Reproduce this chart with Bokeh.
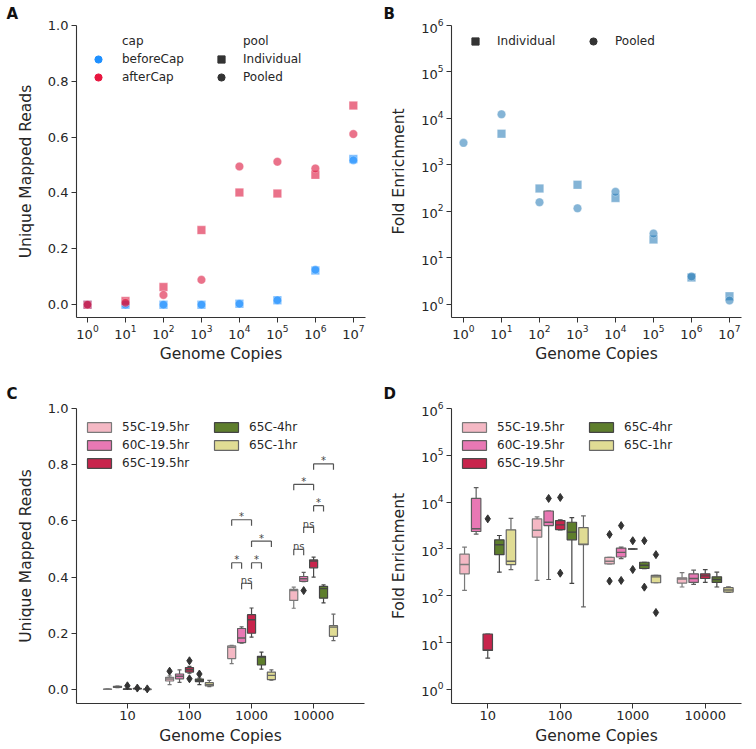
from bokeh.plotting import figure
from bokeh.models import (ColumnDataSource, FactorRange, FixedTicker, Legend, LegendItem,
                          Title, Range1d, NumeralTickFormatter)
from bokeh.transform import dodge
from bokeh.layouts import column, row
from bokeh.embed import file_html
from bokeh.resources import INLINE
from bokeh.core.properties import value

FONT = "DejaVu Sans"
TXT = "#262626"
AX = "#333333"
NAN = float("nan")

# ---------------- Panel A data ----------------
copies_a = [1, 10, 100, 1000, 1e4, 1e5, 1e6, 1e7]
before_ind = [0.0, 0.0, 0.0, 0.0, 0.003, 0.016, 0.122, 0.522]
before_pool = [0.0, 0.0, 0.0, 0.0, 0.003, 0.016, 0.125, 0.517]
after_ind = [0.0, 0.013, 0.063, 0.267, 0.402, 0.398, 0.465, 0.713]
after_pool = [0.0, 0.007, 0.035, 0.089, 0.495, 0.512, 0.488, 0.611]

# ---------------- Panel B data ----------------
copies_b_ind = [10, 100, 1000, 1e4, 1e5, 1e6, 1e7]
fold_ind = [4720, 313, 375, 195, 25, 3.8, 1.5]
copies_b_pool = [1, 10, 100, 1000, 1e4, 1e5, 1e6, 1e7]
fold_pool = [2990, 12300, 158, 117, 265, 33.5, 4.0, 1.22]

log_ticks = [1, 10, 100, 1000, 1e4, 1e5, 1e6, 1e7]
fold_ticks = [1, 10, 100, 1000, 1e4, 1e5, 1e6]
lin_ticks = [0.0, 0.2, 0.4, 0.6, 0.8, 1.0]

# ---------------- Panels C / D data ----------------
cats = ["10", "100", "1000", "10000"]
conds = ["55C-19.5hr", "60C-19.5hr", "65C-19.5hr", "65C-4hr", "65C-1hr"]
colors = ["#F4B8C4", "#E878B4", "#C8244C", "#5E7E2C", "#E0DC94"]
edge_colors = ["#7a7a7a", "#5e5e5e", "#4a4a4a", "#444444", "#666666"]

# C: unique mapped reads box statistics (per condition, one value per copies category)
c_lo = {"55C-19.5hr": [0.0, 0.017, 0.092, 0.289], "60C-19.5hr": [0.006, 0.025, 0.165, 0.384],
        "65C-19.5hr": [0.0, 0.058, 0.186, 0.400], "65C-4hr": [0.001, 0.017, 0.072, 0.308],
        "65C-1hr": [0.0, 0.010, 0.033, 0.174]}
c_q1 = {"55C-19.5hr": [0.0, 0.030, 0.110, 0.317], "60C-19.5hr": [0.007, 0.038, 0.167, 0.385],
        "65C-19.5hr": [0.0, 0.062, 0.200, 0.433], "65C-4hr": [0.002, 0.028, 0.087, 0.325],
        "65C-1hr": [0.0, 0.013, 0.035, 0.189]}
c_med = {"55C-19.5hr": [0.001, 0.037, 0.150, 0.352], "60C-19.5hr": [0.009, 0.047, 0.183, 0.394],
         "65C-19.5hr": [0.001, 0.070, 0.248, 0.457], "65C-4hr": [0.003, 0.032, 0.115, 0.359],
         "65C-1hr": [0.0, 0.017, 0.050, 0.222]}
c_q3 = {"55C-19.5hr": [0.001, 0.043, 0.155, 0.356], "60C-19.5hr": [0.011, 0.055, 0.217, 0.402],
        "65C-19.5hr": [0.002, 0.078, 0.266, 0.461], "65C-4hr": [0.004, 0.037, 0.118, 0.367],
        "65C-1hr": [0.001, 0.024, 0.062, 0.227]}
c_hi = {"55C-19.5hr": [0.002, 0.048, 0.157, 0.364], "60C-19.5hr": [0.012, 0.070, 0.223, 0.417],
        "65C-19.5hr": [0.003, 0.082, 0.290, 0.471], "65C-4hr": [0.005, 0.040, 0.133, 0.372],
        "65C-1hr": [0.001, 0.032, 0.070, 0.268]}
c_out_cat = ["10", "10", "10", "100", "100", "100", "100", "10000"]
c_out_cond = ["65C-19.5hr", "65C-4hr", "65C-1hr", "55C-19.5hr", "65C-19.5hr", "65C-19.5hr", "65C-4hr", "60C-19.5hr"]
c_out_val = [0.013, 0.005, 0.002, 0.065, 0.102, 0.038, 0.055, 0.352]

# C: significance brackets
br_cat = ["1000", "1000", "1000", "1000", "1000", "10000", "10000", "10000", "10000", "10000"]
br_left = ["60C-19.5hr", "55C-19.5hr", "65C-19.5hr", "55C-19.5hr", "65C-19.5hr",
           "55C-19.5hr", "60C-19.5hr", "65C-19.5hr", "55C-19.5hr", "65C-19.5hr"]
br_right = ["65C-19.5hr", "60C-19.5hr", "65C-4hr", "65C-19.5hr", "65C-1hr",
            "60C-19.5hr", "65C-19.5hr", "65C-4hr", "65C-19.5hr", "65C-1hr"]
br_y = [0.378, 0.451, 0.451, 0.604, 0.528, 0.499, 0.578, 0.654, 0.730, 0.803]
br_text = ["ns", "*", "*", "*", "*", "ns", "ns", "*", "*", "*"]

# D: fold enrichment box statistics
d_lo = {"55C-19.5hr": [131, 213, 479, 154], "60C-19.5hr": [2070, 223, 622, 175],
        "65C-19.5hr": [4.65, 2550, 1000, 193], "65C-4hr": [319, 184, 382, 154],
        "65C-1hr": [364, 58, 190, 118]}
d_q1 = {"55C-19.5hr": [294, 1790, 479, 187], "60C-19.5hr": [2360, 3160, 674, 193],
        "65C-19.5hr": [6.8, 2600, 1000, 234], "65C-4hr": [757, 1570, 383, 193],
        "65C-1hr": [465, 1230, 190, 120]}
d_med = {"55C-19.5hr": [465, 2520, 546, 229], "60C-19.5hr": [2700, 3720, 847, 234],
         "65C-19.5hr": [6.9, 3270, 1000, 267], "65C-4hr": [1230, 2290, 450, 223],
         "65C-1hr": [546, 1270, 254, 133]}
d_q3 = {"55C-19.5hr": [780, 4380, 664, 242], "60C-19.5hr": [12000, 6470, 1045, 294],
        "65C-19.5hr": [15.3, 4040, 1000, 294], "65C-4hr": [1570, 3720, 520, 254],
        "65C-1hr": [2560, 2870, 272, 149]}
d_hi = {"55C-19.5hr": [1100, 4830, 664, 314], "60C-19.5hr": [20500, 6470, 1100, 352],
        "65C-19.5hr": [15.3, 4200, 1000, 364], "65C-4hr": [1940, 4670, 520, 319],
        "65C-1hr": [4520, 5070, 272, 156]}
d_out_cat = ["10", "100", "100", "100", "1000", "1000", "1000", "1000", "1000", "1000",
             "1000", "1000", "1000", "1000"]
d_out_cond = ["65C-19.5hr", "60C-19.5hr", "65C-19.5hr", "65C-19.5hr", "55C-19.5hr", "55C-19.5hr",
              "60C-19.5hr", "60C-19.5hr", "65C-19.5hr", "65C-19.5hr", "65C-4hr", "65C-4hr",
              "65C-1hr", "65C-1hr"]
d_out_val = [4400, 12000, 12600, 304, 2040, 206, 3160, 213, 1500, 364, 1500, 153, 757, 44]

offsets = [-0.32, -0.16, 0.0, 0.16, 0.32]
BOXW = 0.13
CAPW = 0.065


def style(p, xlabel_standoff):
    for ax in p.axis:
        ax.axis_line_color = AX
        ax.axis_line_width = 1.1
        ax.major_tick_line_color = AX
        ax.major_tick_out = 5
        ax.major_tick_in = 0
        ax.minor_tick_line_color = None
        ax.major_label_text_font = FONT
        ax.major_label_text_font_size = "13px"
        ax.major_label_text_color = TXT
        ax.axis_label_text_font = FONT
        ax.axis_label_text_font_size = "15.5px"
        ax.axis_label_text_font_style = "normal"
        ax.axis_label_text_color = TXT
    p.xaxis.major_label_standoff = 2
    p.yaxis.major_label_standoff = 3
    p.xaxis.axis_label_standoff = xlabel_standoff
    p.yaxis.axis_label_standoff = 10
    p.xgrid.visible = False
    p.ygrid.visible = False
    p.outline_line_color = None
    p.background_fill_color = "white"


def letter(p, txt, off, standoff):
    p.add_layout(Title(text=txt, align="left", offset=off, standoff=standoff,
                       text_font=FONT, text_font_style="bold", text_font_size="15px",
                       text_color="#111111"), "above")


def legend(p, items, loc, glyph_w, glyph_h, standoff, orientation="vertical", size="12px"):
    lg = Legend(items=items, location=loc, orientation=orientation, glyph_width=glyph_w,
                glyph_height=glyph_h, label_height=18, label_standoff=standoff, spacing=0,
                padding=0, margin=0, border_line_color=None, background_fill_alpha=0,
                label_text_font=FONT, label_text_font_size=size, label_text_color=TXT)
    p.add_layout(lg)
    return lg


def proxy(p, marker, color, alpha=1.0):
    # legend-only renderer: a single NaN point, never drawn in the plot area
    return p.scatter(x=[NAN], y=[NAN], marker=marker, fill_color=color, line_color=color,
                     fill_alpha=alpha, line_alpha=alpha)


# ================= Panel A =================
pA = figure(width=378, height=365, x_axis_type="log", output_backend="svg", toolbar_location=None,
            x_range=Range1d(10 ** -0.29, 10 ** 7.32), y_range=Range1d(-0.046, 1.0),
            min_border_left=76, min_border_right=13, min_border_top=23, min_border_bottom=47)
style(pA, 3)
pA.xaxis.ticker = FixedTicker(ticks=log_ticks, minor_ticks=[])
pA.yaxis.ticker = FixedTicker(ticks=lin_ticks, minor_ticks=[])
pA.yaxis.formatter = NumeralTickFormatter(format="0.0")
pA.xaxis.axis_label = "Genome Copies"
pA.yaxis.axis_label = "Unique Mapped Reads"

srcA = ColumnDataSource(dict(x=copies_a, bi=before_ind, bp=before_pool, ai=after_ind, ap=after_pool))
for col, mk, c in [("bi", "square", "#1E90FF"), ("bp", "circle", "#1E90FF"),
                   ("ai", "square", "#DC143C"), ("ap", "circle", "#DC143C")]:
    pA.scatter(x="x", y=col, source=srcA, marker=mk, size=8.5, fill_color=c, fill_alpha=0.6,
               line_color="white", line_width=0.5, line_alpha=0.6)

hdrA = proxy(pA, "circle", "white", 0.0)
lbA = proxy(pA, "circle", "#1E90FF")
laA = proxy(pA, "circle", "#E8163F")
liA = proxy(pA, "square", AX)
lpA = proxy(pA, "circle", AX)
legend(pA, [LegendItem(label="cap", renderers=[hdrA]), LegendItem(label="beforeCap", renderers=[lbA]),
            LegendItem(label="afterCap", renderers=[laA])], (13, 231), 18, 18, 15)
legend(pA, [LegendItem(label="pool", renderers=[hdrA]), LegendItem(label="Individual", renderers=[liA]),
            LegendItem(label="Pooled", renderers=[lpA])], (136, 231), 18, 18, 13)
letter(pA, "A", -70, 5)

# ================= Panel B =================
pB = figure(width=378, height=365, x_axis_type="log", y_axis_type="log", output_backend="svg",
            toolbar_location=None, x_range=Range1d(10 ** -0.316, 10 ** 7.316),
            y_range=Range1d(10 ** -0.28, 10 ** 6),
            min_border_left=73, min_border_right=15, min_border_top=23, min_border_bottom=47)
style(pB, 3)
pB.xaxis.ticker = FixedTicker(ticks=log_ticks, minor_ticks=[])
pB.yaxis.ticker = FixedTicker(ticks=fold_ticks, minor_ticks=[])
pB.xaxis.axis_label = "Genome Copies"
pB.yaxis.axis_label = "Fold Enrichment"
pB.scatter(x=copies_b_ind, y=fold_ind, marker="square", size=8.5, fill_color="#1F77B4", fill_alpha=0.55,
           line_color="white", line_width=0.5, line_alpha=0.6)
pB.scatter(x=copies_b_pool, y=fold_pool, marker="circle", size=8.5, fill_color="#1F77B4", fill_alpha=0.55,
           line_color="white", line_width=0.5, line_alpha=0.6)
liB = proxy(pB, "square", AX)
lpB = proxy(pB, "circle", AX)
legend(pB, [LegendItem(label="Individual", renderers=[liB])], (15, 267), 18, 18, 13)
legend(pB, [LegendItem(label="Pooled", renderers=[lpB])], (133, 267), 18, 18, 13)
letter(pB, "B", -68, 5)


# ================= Box helper =================
def boxes(p, lo, q1, med, q3, hi, out_cat, out_cond, out_val):
    rends = []
    for i, cond in enumerate(conds):
        off = offsets[i]
        ec = edge_colors[i]
        src = ColumnDataSource(dict(cat=cats, lo=lo[cond], q1=q1[cond], med=med[cond],
                                    q3=q3[cond], hi=hi[cond]))
        xc = dodge("cat", off, range=p.x_range)
        xl = dodge("cat", off - CAPW / 2, range=p.x_range)
        xr = dodge("cat", off + CAPW / 2, range=p.x_range)
        bl = dodge("cat", off - BOXW / 2, range=p.x_range)
        brr = dodge("cat", off + BOXW / 2, range=p.x_range)
        kw = dict(source=src, line_color=ec, line_width=1.2)
        p.segment(x0=xc, y0="q3", x1=xc, y1="hi", **kw)
        p.segment(x0=xc, y0="lo", x1=xc, y1="q1", **kw)
        p.segment(x0=xl, y0="hi", x1=xr, y1="hi", **kw)
        p.segment(x0=xl, y0="lo", x1=xr, y1="lo", **kw)
        r = p.vbar(x=xc, width=BOXW, top="q3", bottom="q1", source=src, fill_color=colors[i],
                   line_color=ec, line_width=1.2)
        p.segment(x0=bl, y0="med", x1=brr, y1="med", source=src, line_color=ec, line_width=1.4)
        rends.append(r)
        oc = [out_cat[k] for k in range(len(out_cat)) if out_cond[k] == cond]
        ov = [out_val[k] for k in range(len(out_cat)) if out_cond[k] == cond]
        if oc:
            osrc = ColumnDataSource(dict(cat=oc, val=ov))
            p.scatter(x=xc, y="val", source=osrc, marker="diamond", size=8,
                      fill_color="#333333", line_color="#333333")
    return rends


def box_legends(p, rends, top_y):
    legend(p, [LegendItem(label=conds[k], renderers=[rends[k]]) for k in range(3)],
           (8, top_y), 30, 12, 8)
    legend(p, [LegendItem(label=conds[k], renderers=[rends[k]]) for k in range(3, 5)],
           (135, top_y + 18), 30, 12, 8)


# ================= Panel C =================
pC = figure(width=378, height=384, output_backend="svg", toolbar_location=None,
            x_range=FactorRange(factors=cats, range_padding=0.32, range_padding_units="absolute"),
            y_range=Range1d(-0.05, 1.0),
            min_border_left=76, min_border_right=14, min_border_top=43, min_border_bottom=46)
style(pC, 4)
pC.yaxis.ticker = FixedTicker(ticks=lin_ticks, minor_ticks=[])
pC.yaxis.formatter = NumeralTickFormatter(format="0.0")
pC.xaxis.axis_label = "Genome Copies"
pC.yaxis.axis_label = "Unique Mapped Reads"
rC = boxes(pC, c_lo, c_q1, c_med, c_q3, c_hi, c_out_cat, c_out_cond, c_out_val)

pairs = []
for a, b in zip(br_left, br_right):
    if (a, b) not in pairs:
        pairs.append((a, b))
for a, b in pairs:
    idx = [k for k in range(len(br_cat)) if br_left[k] == a and br_right[k] == b]
    s = ColumnDataSource(dict(cat=[br_cat[k] for k in idx], y=[br_y[k] for k in idx],
                              y0=[br_y[k] - 0.021 for k in idx], t=[br_text[k] for k in idx]))
    oa, ob = offsets[conds.index(a)], offsets[conds.index(b)]
    xa = dodge("cat", oa, range=pC.x_range)
    xb = dodge("cat", ob, range=pC.x_range)
    kw = dict(source=s, line_color="#555555", line_width=1.2)
    pC.segment(x0=xa, y0="y", x1=xb, y1="y", **kw)
    pC.segment(x0=xa, y0="y0", x1=xa, y1="y", **kw)
    pC.segment(x0=xb, y0="y0", x1=xb, y1="y", **kw)
    pC.text(x=dodge("cat", (oa + ob) / 2, range=pC.x_range), y="y", text="t", source=s,
            text_font=value(FONT), text_font_size="10px", text_color="#444444",
            text_align="center", text_baseline="alphabetic", y_offset=-3)
box_legends(pC, rC, 231)
letter(pC, "C", -70, 12)

# ================= Panel D =================
pD = figure(width=378, height=384, y_axis_type="log", output_backend="svg", toolbar_location=None,
            x_range=FactorRange(factors=cats, range_padding=0.0),
            y_range=Range1d(10 ** -0.3, 10 ** 6),
            min_border_left=73, min_border_right=15, min_border_top=43, min_border_bottom=46)
style(pD, 4)
pD.yaxis.ticker = FixedTicker(ticks=fold_ticks, minor_ticks=[])
pD.xaxis.axis_label = "Genome Copies"
pD.yaxis.axis_label = "Fold Enrichment"
rD = boxes(pD, d_lo, d_q1, d_med, d_q3, d_hi, d_out_cat, d_out_cond, d_out_val)
box_legends(pD, rD, 231)
letter(pD, "D", -68, 12)

layout = column(row(pA, pB), row(pC, pD))
open("out.html", "w").write(file_html(layout, INLINE))
